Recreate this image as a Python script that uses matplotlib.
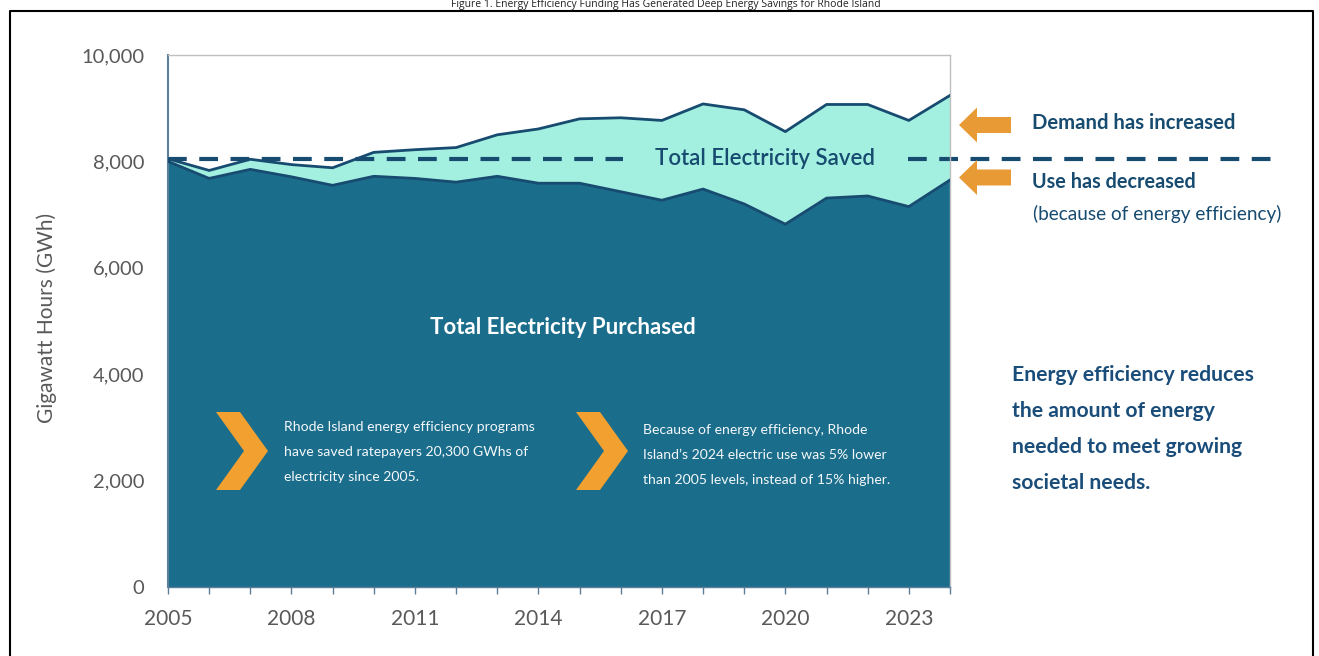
import matplotlib.pyplot as plt
import numpy as np
from matplotlib.lines import Line2D
from matplotlib.patches import Polygon

plt.rcParams['font.family'] = ['Lato', 'DejaVu Sans']

# DATA
years = list(range(2005, 2025))
demand = [8050, 7830, 8040, 7940, 7880, 8170, 8220, 8260, 8500, 8610,
          8800, 8820, 8770, 9080, 8970, 8560, 9070, 9070, 8770, 9240]
purchased = [8000, 7680, 7850, 7710, 7550, 7720, 7680, 7610, 7720, 7590,
             7590, 7430, 7270, 7480, 7200, 6820, 7310, 7350, 7150, 7650]
baseline_2005 = 8050
year_labels = [str(y) if (y - 2005) % 3 == 0 else "" for y in years]
y_ticks = [0, 2000, 4000, 6000, 8000, 10000]

caption = "Figure 1. Energy Efficiency Funding Has Generated Deep Energy Savings for Rhode Island"
note_left = ["Rhode Island energy efficiency programs",
             "have saved ratepayers 20,300 GWhs of",
             "electricity since 2005."]
note_right = ["Because of energy efficiency, Rhode",
              "Island\u2019s 2024 electric use was 5% lower",
              "than 2005 levels, instead of 15% higher."]
side_note = ["Energy efficiency reduces", "the amount of energy",
             "needed to meet growing", "societal needs."]

# colours
DARK = "#1B6D8C"
MINT = "#A3EFE0"
NAVY = "#174B70"
ORANGE = "#F2A030"
ARROW = "#E89A35"
GREY = "#595959"

W, H = 1319, 656
fig = plt.figure(figsize=(W / 100, H / 100), dpi=100)


def fx(x):
    return x / W


def fy(y):
    return 1 - y / H


ax = fig.add_axes([fx(168), fy(587), fx(950) - fx(168), fy(55) - fy(587)])

ax.fill_between(years, 0, purchased, color=DARK, lw=0, zorder=1)
ax.fill_between(years, purchased, demand, color=MINT, lw=0, zorder=1)
ax.plot(years, demand, color=NAVY, lw=2, zorder=3)
ax.plot(years, purchased, color=NAVY, lw=2, zorder=3)

# dashed 2005 level, broken around the label and running past the plot
ax.plot([2005, 2016.05], [baseline_2005, baseline_2005], color=NAVY, lw=3,
        linestyle=(0, (4.5, 3)), zorder=2)
ax.plot([2022.98, 2032.0], [baseline_2005, baseline_2005], color=NAVY, lw=3,
        linestyle=(0, (4.5, 3)), clip_on=False, zorder=2)

ax.set_xlim(2005, 2024)
ax.set_ylim(0, 10000)
ax.set_xticks(years)
ax.set_xticklabels(year_labels)
ax.set_yticks(y_ticks)
ax.set_yticklabels([f"{v:,}" for v in y_ticks])
ax.tick_params(axis="x", length=5, width=1, color="#5B7F9A", pad=11,
               labelsize=15, labelcolor=GREY)
ax.tick_params(axis="y", length=0, pad=17, labelsize=14.5, labelcolor=GREY)
ax.set_ylabel("Gigawatt Hours (GWh)", fontsize=15, color=GREY)
ax.yaxis.set_label_coords(-0.142, 0.506)

for s in ["top", "right"]:
    ax.spines[s].set_color("#BFBFBF")
    ax.spines[s].set_linewidth(1)
ax.spines["left"].set_color("#5B7F9A")
ax.spines["left"].set_linewidth(1.5)
ax.spines["bottom"].set_color("#5B7F9A")
ax.spines["bottom"].set_linewidth(1)

ax.text(2014.6, 4870, "Total Electricity Purchased", color="white",
        fontsize=16, fontweight="bold", ha="center", va="center", zorder=5)
ax.text(2019.5, baseline_2005, "Total Electricity Saved", color=NAVY,
        fontsize=16, fontweight="semibold", ha="center", va="center", zorder=5)

# chevrons and notes inside the dark area
for dx in [0, 360]:
    pts = [(216 + dx, 412), (240 + dx, 412), (268 + dx, 451),
           (240 + dx, 490), (216 + dx, 490), (244 + dx, 451)]
    fig.patches.append(Polygon([(fx(x), fy(y)) for x, y in pts], closed=True,
                               transform=fig.transFigure, fc=ORANGE, ec="none",
                               zorder=6))
for i, line in enumerate(note_left):
    fig.text(fx(284), fy(427 + 25 * i), line, color="#F4F8FA", fontsize=10.1,
             fontweight="normal", va="center", ha="left", zorder=6)
for i, line in enumerate(note_right):
    fig.text(fx(643), fy(430 + 25 * i), line, color="#F4F8FA", fontsize=10.1,
             fontweight="normal", va="center", ha="left", zorder=6)

# block arrows on the right
for cy in [125, 177.5]:
    pts = [(959, cy), (977, cy - 17.5), (977, cy - 8), (1011, cy - 8),
           (1011, cy + 8), (977, cy + 8), (977, cy + 17.5)]
    fig.patches.append(Polygon([(fx(x), fy(y)) for x, y in pts], closed=True,
                               transform=fig.transFigure, fc=ARROW, ec="none"))

fig.text(fx(1032), fy(123), "Demand has increased", color=NAVY, fontsize=14.6,
         fontweight="bold", va="center")
fig.text(fx(1032), fy(182), "Use has decreased", color=NAVY, fontsize=14.3,
         fontweight="bold", va="center")
fig.text(fx(1033), fy(214), "(because of energy efficiency)", color=NAVY,
         fontsize=13.7, va="center")

for i, line in enumerate(side_note):
    fig.text(fx(1012), fy(375 + 36 * i), line, color="#1A4D7A", fontsize=15.2,
             fontweight="bold", va="center")

# outer frame and the caption above it
fig.lines.append(Line2D([fx(10), fx(10), fx(1313), fx(1313)],
                        [0, fy(11), fy(11), 0], transform=fig.transFigure,
                        color="black", lw=1.5))
fig.text(0.505, fy(7.5), caption, fontsize=7.5, color="#222222", ha="center",
         va="baseline", family=["Open Sans", "DejaVu Sans"])

fig.savefig("out.png", dpi=100)
